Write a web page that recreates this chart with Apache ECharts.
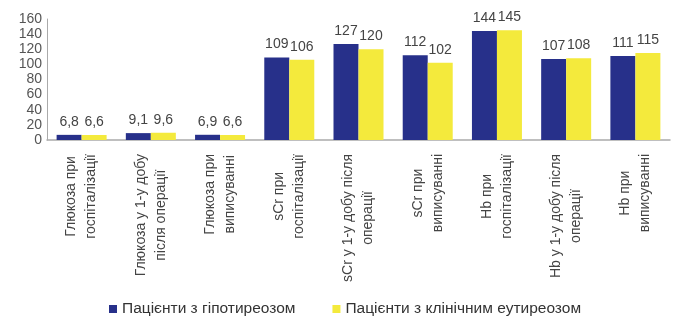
<!DOCTYPE html>
<html><head><meta charset="utf-8">
<script src="https://cdn.jsdelivr.net/npm/echarts@6/dist/echarts.min.js"></script>
<style>html,body{margin:0;padding:0;background:#fff}#c{width:680px;height:322px}</style>
</head><body><div id="c"></div>
<script>
var categories = [
  "Глюкоза при\nгоспіталізації",
  "Глюкоза у 1-у добу\nпісля операції",
  "Глюкоза при\nвиписуванні",
  "sCr при\nгоспіталізації",
  "sCr у 1-у добу після\nоперації",
  "sCr при\nвиписуванні",
  "Hb при\nгоспіталізації",
  "Hb у 1-у добу після\nоперації",
  "Hb при\nвиписуванні"
];
var hypo = [6.8, 9.1, 6.9, 109, 127, 112, 144, 107, 111];
var eu = [6.6, 9.6, 6.6, 106, 120, 102, 145, 108, 115];
var seriesNames = ["Пацієнти з гіпотиреозом", "Пацієнти з клінічним еутиреозом"];
var yTicks = {min: 0, max: 160, interval: 20};

var font = "'Liberation Sans','DejaVu Sans',sans-serif";
function fmt(p){ return String(p.value).replace('.', ','); }
function catFmt(v){ return v.split('\n').map(function(s){ return '{c|' + s + '}'; }).join('\n'); }
var chart = echarts.init(document.getElementById('c'), null, {renderer:'canvas'});
chart.setOption({
  animation:false,
  textStyle:{fontFamily:font},
  grid:{left:47, right:10, top:19, bottom:182},
  legend:{
    bottom:0, left:104, itemWidth:8, itemHeight:8, itemGap:37, icon:'rect',
    textStyle:{fontSize:15.5, color:'#333', fontFamily:font},
    data:seriesNames
  },
  xAxis:{
    type:'category', data:categories,
    axisLine:{lineStyle:{color:'#aaa', width:1.5}},
    axisTick:{show:false},
    axisLabel:{rotate:90, interval:0, margin:14, formatter:catFmt,
      rich:{c:{align:'center', fontSize:14, lineHeight:20, color:'#444', fontFamily:font}}}
  },
  yAxis:{
    type:'value', min:yTicks.min, max:yTicks.max, interval:yTicks.interval,
    splitLine:{show:false},
    axisLine:{show:true, lineStyle:{color:'#aaa', width:1}},
    axisTick:{show:false},
    axisLabel:{fontSize:14, color:'#555', margin:5, fontFamily:font}
  },
  series:[
    {name:seriesNames[0], type:'bar', data:hypo, barWidth:25, barGap:'0%',
     itemStyle:{color:'#27308a'},
     label:{show:true, position:'top', formatter:fmt, fontSize:14, color:'#444', distance:6, fontFamily:font}},
    {name:seriesNames[1], type:'bar', data:eu, barWidth:25,
     itemStyle:{color:'#f4ea3c'},
     label:{show:true, position:'top', formatter:fmt, fontSize:14, color:'#444', distance:6, fontFamily:font}}
  ]
});
</script></body></html>
